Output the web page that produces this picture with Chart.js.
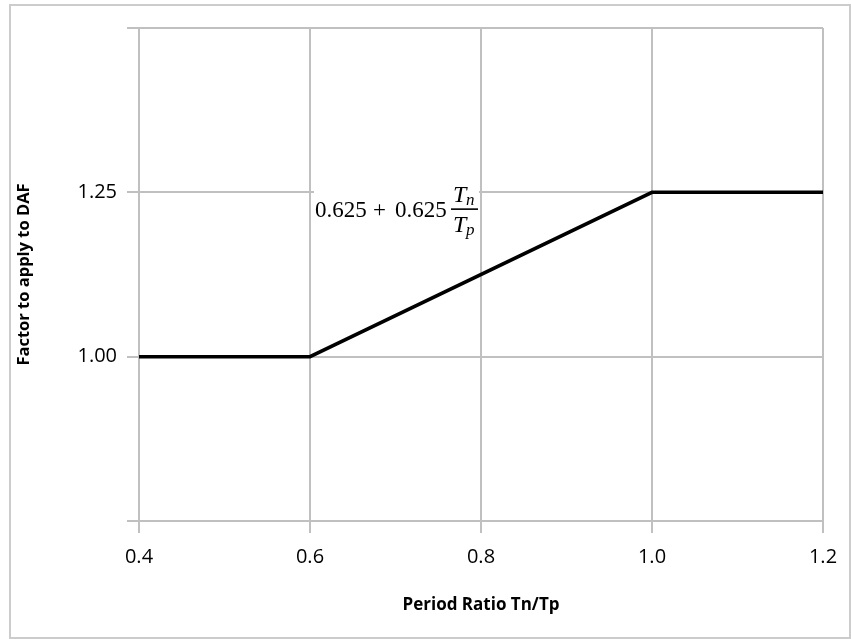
<!DOCTYPE html>
<html>
<head>
<meta charset="utf-8">
<script src="https://cdn.jsdelivr.net/npm/chart.js@4/dist/chart.umd.min.js"></script>
<style>
  html, body { margin: 0; padding: 0; background: #fff; }
  #wrap { width: 851px; height: 639px; }
</style>
</head>
<body>
<div id="wrap"><canvas id="chart" width="851" height="639"></canvas></div>
<script>
// Period ratio Tn/Tp vs factor to apply to DAF
const periodRatio = [0.4, 0.6, 1.0, 1.2];
const dafFactor = [1.0, 1.0, 1.25, 1.25];
const yLabelled = [1.0, 1.25];

const gridGrey = '#c0c0c0';

// outer frame of the chart object
const framePlugin = {
    id: 'frame',
    beforeDraw(chart) {
        const ctx = chart.ctx;
        ctx.save();
        ctx.fillStyle = '#fff';
        ctx.fillRect(0, 0, chart.width, chart.height);
        ctx.strokeStyle = '#cccccc';
        ctx.lineWidth = 2;
        ctx.strokeRect(10, 5, 840, 633);
        ctx.restore();
    }
};

// the equation label on the sloped part
const formulaPlugin = {
    id: 'formula',
    afterDatasetsDraw(chart) {
        const ctx = chart.ctx;
        const x = chart.scales.x, y = chart.scales.y;
        const left = x.getPixelForValue(0.6) + 4;
        const mid = y.getPixelForValue(1.25);
        ctx.save();
        ctx.fillStyle = '#fff';
        ctx.fillRect(left, mid - 10, 165, 58);
        ctx.fillStyle = '#000';
        ctx.textBaseline = 'alphabetic';
        ctx.font = '23px "Liberation Serif"';
        const base = mid + 25;
        ctx.fillText('0.625', left + 1, base);
        ctx.fillText('+', left + 59, base);
        ctx.fillText('0.625', left + 81, base);
        // fraction
        const fx = left + 137;
        const barY = mid + 16;
        ctx.fillRect(fx, barY, 27, 1.6);
        ctx.font = 'italic 24px "Liberation Serif"';
        ctx.fillText('T', fx + 2, barY - 6);
        ctx.fillText('T', fx + 2, barY + 24);
        ctx.font = 'italic 17px "Liberation Serif"';
        ctx.fillText('n', fx + 15, barY - 3);
        ctx.fillText('p', fx + 15, barY + 27);
        ctx.restore();
    }
};

new Chart(document.getElementById('chart'), {
    type: 'scatter',
    data: {
        datasets: [{
            data: periodRatio.map((v, i) => ({ x: v, y: dafFactor[i] })),
            showLine: true,
            borderColor: '#000',
            borderWidth: 3.5,
            pointRadius: 0,
            tension: 0
        }]
    },
    options: {
        responsive: false,
        animation: false,
        layout: { padding: { top: 28, right: 28, left: 0, bottom: 0 } },
        plugins: {
            legend: { display: false },
            tooltip: { enabled: false }
        },
        scales: {
            x: {
                type: 'linear',
                min: 0.4,
                max: 1.2,
                afterFit: (scale) => { scale.height = 118; },
                grid: { color: gridGrey, lineWidth: 2, tickLength: 12 },
                border: { color: gridGrey, width: 2 },
                ticks: {
                    stepSize: 0.2,
                    padding: 12,
                    color: '#000',
                    font: { family: '"Open Sans"', size: 20 },
                    callback: (v) => Number(v).toFixed(1)
                },
                title: {
                    display: true,
                    text: 'Period Ratio Tn/Tp',
                    color: '#000',
                    font: { family: '"Open Sans"', size: 17, weight: 'bold' },
                    padding: { top: 0, bottom: 24 }
                }
            },
            y: {
                type: 'linear',
                min: 0.75,
                max: 1.5,
                afterFit: (scale) => { scale.width = 139; },
                grid: { color: gridGrey, lineWidth: 2, tickLength: 12 },
                border: { color: gridGrey, width: 2 },
                ticks: {
                    stepSize: 0.25,
                    padding: 10,
                    color: '#000',
                    font: { family: '"Open Sans"', size: 20 },
                    callback: (v) => yLabelled.some(t => Math.abs(t - v) < 1e-6) ? Number(v).toFixed(2) : ''
                },
                title: {
                    display: true,
                    text: 'Factor to apply to DAF',
                    color: '#000',
                    font: { family: '"Open Sans"', size: 16.5, weight: 'bold' },
                    padding: { top: 14, bottom: 0 }
                }
            }
        }
    },
    plugins: [framePlugin, formulaPlugin]
});
</script>
</body>
</html>
